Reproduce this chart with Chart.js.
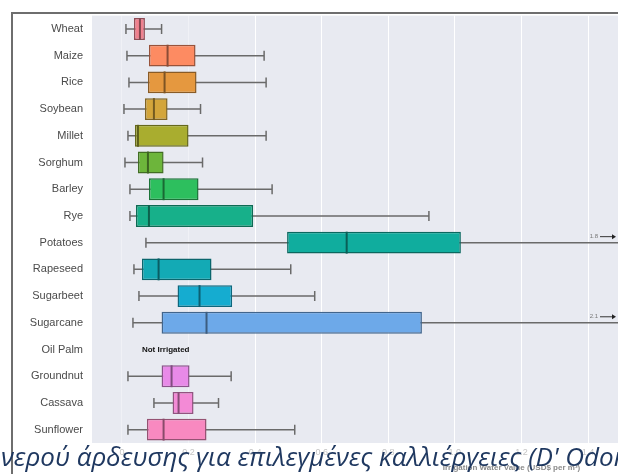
<!DOCTYPE html>
<html>
<head>
<meta charset="utf-8">
<script src="https://cdn.jsdelivr.net/npm/chart.js@4.4.1/dist/chart.umd.min.js"></script>
<style>
  html, body { margin: 0; padding: 0; background: #fff; }
  #wrap { position: relative; width: 618px; height: 474px; overflow: hidden; }
  #caption {
    position: absolute; left: 1px; top: 443px; white-space: nowrap; line-height: 1;
    font-family: "Open Sans", sans-serif; font-style: italic; font-size: 26px;
    color: #1f3860;
  }
</style>
</head>
<body>
<div id="wrap">
  <canvas id="chart" width="618" height="474"></canvas>
  <div id="caption">νερού άρδευσης για επιλεγμένες καλλιέργειες (D' Odorico</div>
</div>
<script>
var crops = ["Wheat", "Maize", "Rice", "Soybean", "Millet", "Sorghum", "Barley", "Rye",
    "Potatoes", "Rapeseed", "Sugarbeet", "Sugarcane", "Oil Palm", "Groundnut", "Cassava", "Sunflower"];
var whiskerLow  = [0.012, 0.015, 0.021, 0.006, 0.018, 0.009, 0.024, 0.024, 0.072, 0.036, 0.051, 0.033, null, 0.018, 0.096, 0.018];
var q1          = [0.036, 0.081, 0.078, 0.069, 0.039, 0.048, 0.081, 0.042, 0.496, 0.060, 0.167, 0.119, null, 0.119, 0.152, 0.075];
var median      = [0.054, 0.137, 0.128, 0.096, 0.048, 0.078, 0.125, 0.081, 0.675, 0.110, 0.233, 0.254, null, 0.149, 0.170, 0.125];
var q3          = [0.069, 0.221, 0.224, 0.137, 0.200, 0.125, 0.230, 0.394, 1.018, 0.269, 0.331, 0.901, null, 0.203, 0.215, 0.254];
var whiskerHigh = [0.119, 0.427, 0.433, 0.236, 0.433, 0.242, 0.451, 0.922, 1.8, 0.507, 0.579, 2.1, null, 0.328, 0.290, 0.519];
var boxColors = ["#f0818f", "#fd8b62", "#e5983f", "#d3a53b", "#a9ad2f", "#6db53b", "#2dbf5e", "#17b08a",
    "#10ad9e", "#13aab5", "#15acd0", "#6da9e9", "#cccccc", "#e88ae8", "#f38ad6", "#f889c0"];
var xTicks = [0, 0.2, 0.4, 0.6, 0.8, 1.0, 1.2, 1.4];
var xMin = -0.09, xMax = 1.49;
var notIrrigatedLabel = "Not Irrigated";
var xTitle = "Irrigation Water Value (USD$ per m\u00b3)";

function darken(hex, f) {
    var n = parseInt(hex.slice(1), 16);
    var r = Math.round(((n >> 16) & 255) * f), g = Math.round(((n >> 8) & 255) * f), b = Math.round((n & 255) * f);
    return "rgb(" + r + "," + g + "," + b + ")";
}

var boxes = crops.map(function (c, i) { return q1[i] == null ? null : [q1[i], q3[i]]; });

var boxParts = {
    id: "boxParts",
    beforeDraw: function (chart) {
        var ctx = chart.ctx, a = chart.chartArea;
        ctx.save();
        ctx.fillStyle = "#e8eaf1";
        ctx.fillRect(a.left, a.top, a.right - a.left, a.bottom - a.top);
        ctx.strokeStyle = "#6e6e6e";
        ctx.lineWidth = 2;
        ctx.beginPath();
        ctx.moveTo(12, 474); ctx.lineTo(12, 13); ctx.lineTo(618, 13);
        ctx.stroke();
        ctx.restore();
    },
    beforeDatasetsDraw: function (chart) {
        var ctx = chart.ctx, a = chart.chartArea, x = chart.scales.x, y = chart.scales.y;
        ctx.save();
        ctx.beginPath();
        ctx.rect(a.left, a.top, a.right - a.left, a.bottom - a.top);
        ctx.clip();
        ctx.strokeStyle = "#6a6a6a";
        ctx.lineWidth = 1.5;
        for (var i = 0; i < crops.length; i++) {
            if (whiskerLow[i] == null) continue;
            var yc = y.getPixelForValue(i);
            var x0 = x.getPixelForValue(whiskerLow[i]);
            var x1 = x.getPixelForValue(Math.min(whiskerHigh[i], xMax + 0.1));
            ctx.beginPath();
            ctx.moveTo(x0, yc); ctx.lineTo(x1, yc);
            ctx.moveTo(x0, yc - 5); ctx.lineTo(x0, yc + 5);
            if (whiskerHigh[i] <= xMax) { ctx.moveTo(x1, yc - 5); ctx.lineTo(x1, yc + 5); }
            ctx.stroke();
        }
        ctx.restore();
    },
    afterDatasetsDraw: function (chart) {
        var ctx = chart.ctx, a = chart.chartArea, x = chart.scales.x, y = chart.scales.y;
        var meta = chart.getDatasetMeta(0);
        ctx.save();
        for (var i = 0; i < crops.length; i++) {
            var yc = y.getPixelForValue(i);
            if (median[i] == null) {
                ctx.fillStyle = "#111";
                ctx.font = "bold 8px 'Liberation Sans', Arial, sans-serif";
                ctx.textAlign = "left";
                ctx.textBaseline = "middle";
                ctx.fillText(notIrrigatedLabel, x.getPixelForValue(0.06), yc);
                continue;
            }
            var h = meta.data[i].height;
            var xm = x.getPixelForValue(median[i]);
            ctx.strokeStyle = darken(boxColors[i], 0.55);
            ctx.lineWidth = 2;
            ctx.beginPath();
            ctx.moveTo(xm, yc - h / 2); ctx.lineTo(xm, yc + h / 2);
            ctx.stroke();
            if (whiskerHigh[i] > xMax) {
                var ya = yc - 6;
                ctx.fillStyle = "#777";
                ctx.font = "6px 'Liberation Sans', Arial, sans-serif";
                ctx.textAlign = "right";
                ctx.textBaseline = "middle";
                ctx.fillText(whiskerHigh[i].toFixed(1), a.right - 20, ya);
                ctx.strokeStyle = "#333";
                ctx.lineWidth = 1;
                ctx.beginPath();
                ctx.moveTo(a.right - 18, ya); ctx.lineTo(a.right - 5, ya);
                ctx.stroke();
                ctx.fillStyle = "#222";
                ctx.beginPath();
                ctx.moveTo(a.right - 2, ya); ctx.lineTo(a.right - 6, ya - 2.5); ctx.lineTo(a.right - 6, ya + 2.5);
                ctx.closePath();
                ctx.fill();
            }
        }
        ctx.fillStyle = "#8a8a8a";
        ctx.font = "bold 8px 'Liberation Sans', Arial, sans-serif";
        ctx.textAlign = "center";
        ctx.textBaseline = "middle";
        ctx.fillText(xTitle, x.getPixelForValue(1.17), 468);
        ctx.restore();
    }
};

new Chart(document.getElementById("chart"), {
    type: "bar",
    data: {
        labels: crops,
        datasets: [{
            data: boxes,
            backgroundColor: boxColors,
            borderColor: boxColors.map(function (c) { return darken(c, 0.6); }),
            borderWidth: 1.5,
            borderSkipped: false,
            barPercentage: 0.82,
            categoryPercentage: 1
        }]
    },
    plugins: [boxParts],
    options: {
        indexAxis: "y",
        responsive: false,
        animation: false,
        layout: { padding: { top: 14, left: 0, right: 0, bottom: 0 } },
        plugins: { legend: { display: false }, tooltip: { enabled: false } },
        scales: {
            x: {
                min: xMin,
                max: xMax,
                afterBuildTicks: function (s) { s.ticks = xTicks.map(function (v) { return { value: v }; }); },
                afterFit: function (s) { s.height = 31; },
                grid: {
                    color: function (c) { return c.tick && c.tick.value < 0.3 ? "rgba(255,255,255,0.35)" : "#ffffff"; },
                    lineWidth: 1, drawTicks: false
                },
                border: { display: false },
                ticks: {
                    color: "#c4c4c4", padding: 4,
                    font: { size: 9, family: "'Liberation Sans', Arial, sans-serif" },
                    callback: function (v) { return v === 0 ? "0" : v.toFixed(1); }
                }
            },
            y: {
                afterFit: function (s) { s.width = 92; },
                grid: { display: false, drawTicks: false },
                border: { display: false },
                ticks: {
                    color: "#4a4a4a", padding: 9,
                    font: { size: 11, family: "'Liberation Sans', Arial, sans-serif" }
                }
            }
        }
    }
});
</script>
</body>
</html>
